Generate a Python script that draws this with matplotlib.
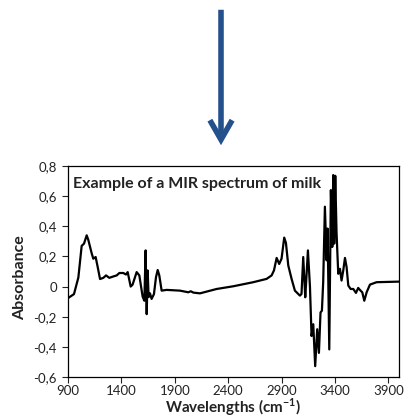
import matplotlib
matplotlib.use("Agg")
import matplotlib.pyplot as plt
from matplotlib.patches import FancyArrowPatch

plt.rcParams['font.family'] = ['Lato', 'DejaVu Sans']

# MIR spectrum
wavenumber = [912, 956, 997, 1028, 1050, 1075, 1090, 1122, 1137, 1159, 1178, 1200,
              1231, 1256, 1287, 1324, 1356, 1381, 1418, 1443, 1459, 1487, 1505, 1543,
              1568, 1599, 1615, 1627, 1637, 1646, 1655, 1668, 1683, 1705, 1724, 1740,
              1755, 1777, 1824, 1949, 2027, 2049, 2074, 2136, 2292, 2448, 2635, 2760,
              2807, 2829, 2854, 2878, 2900, 2925, 2941, 2963, 2994, 3025, 3072, 3087,
              3103, 3122, 3128, 3147, 3166, 3181, 3197, 3215, 3234, 3250, 3265, 3278,
              3290, 3306, 3322, 3331, 3347, 3362, 3375, 3384, 3393, 3403, 3415, 3431,
              3447, 3462, 3478, 3494, 3509, 3525, 3547, 3572, 3597, 3618, 3640, 3656,
              3675, 3697, 3728, 3790, 4008]
absorbance = [-0.071, -0.05, 0.06, 0.27, 0.285, 0.34, 0.31, 0.22, 0.185, 0.196, 0.13, 0.05,
              0.058, 0.074, 0.058, 0.067, 0.074, 0.09, 0.09, 0.08, 0.096, 0.0, 0.013, 0.096,
              0.074, -0.067, -0.094, 0.24, -0.183, 0.107, -0.07, -0.045, -0.082, -0.05, 0.062, 0.11,
              0.074, -0.027, -0.022, -0.027, -0.038, -0.031, -0.040, -0.045, -0.016, 0.002, 0.029, 0.051,
              0.074, 0.107, 0.19, 0.15, 0.185, 0.325, 0.29, 0.14, 0.051, -0.027, -0.06, -0.049,
              0.196, -0.071, 0.0, 0.24, 0.0, -0.328, -0.25, -0.528, -0.283, -0.44, -0.172, -0.16,
              0.029, 0.53, 0.174, 0.385, -0.417, 0.64, 0.263, 0.74, 0.285, 0.735, 0.36, 0.085,
              0.118, 0.04, 0.107, 0.19, 0.13, 0.007, -0.016, -0.016, -0.042, -0.009, -0.027, -0.038,
              -0.094, -0.038, 0.013, 0.029, 0.033]

x_ticks = [900, 1400, 1900, 2400, 2900, 3400, 3900]
y_ticks = [-0.6, -0.4, -0.2, 0, 0.2, 0.4, 0.6, 0.8]
y_tick_labels = ['-0,6', '-0,4', '-0,2', '0', '0,2', '0,4', '0,6', '0,8']

W, H = 406, 420
fig = plt.figure(figsize=(W / 100, H / 100), dpi=100)
ax = fig.add_axes([68 / W, 1 - 377 / H, (399 - 68) / W, (377 - 166) / H])

ax.plot(wavenumber, absorbance, color='black', lw=1.6)
ax.set_xlim(900, 4000)
ax.set_ylim(-0.6, 0.8)
ax.set_xticks(x_ticks)
ax.set_xticklabels([str(t) for t in x_ticks])
ax.set_yticks(y_ticks)
ax.set_yticklabels(y_tick_labels)
ax.tick_params(direction='out', length=4, width=0.8, labelsize=9.5, colors='#222222')
ax.tick_params(axis='y', pad=4)
ax.tick_params(axis='x', pad=2)
for s in ax.spines.values():
    s.set_linewidth(0.9)

ax.text(0.015, 0.915, 'Example of a MIR spectrum of milk', transform=ax.transAxes,
        fontsize=11.5, fontweight='bold', color='#222222', va='center')

fig.text(20 / W, 1 - 278 / H, 'Absorbance', rotation=90, fontsize=11.5,
         fontweight='bold', ha='center', va='center', color='#222222')
fig.text(233 / W, 1 - 407 / H, 'Wavelengths (cm$^{\\mathregular{-1}}$)', fontsize=11,
         fontweight='bold', ha='center', va='center', color='#222222')

# blue arrow above the chart
arrow = FancyArrowPatch((221 / W, 1 - 7 / H), (221 / W, 1 - 148 / H),
                        transform=fig.transFigure,
                        arrowstyle='->,head_length=14,head_width=8',
                        color='#24508c', lw=4, joinstyle='miter', capstyle='butt')
fig.add_artist(arrow)

fig.savefig('out.png', dpi=100)
